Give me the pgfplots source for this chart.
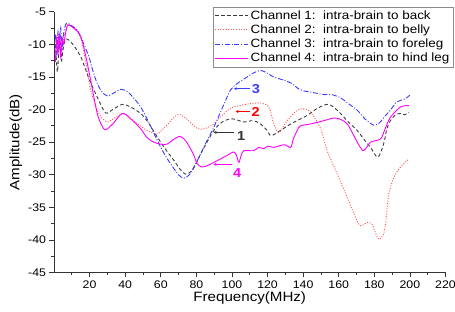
\documentclass[border=0pt]{standalone}
\usepackage{fontspec}
\setmainfont[FakeStretch=1.12]{Liberation Sans}
\usepackage{pgfplots}
\pgfplotsset{compat=1.18}
\usetikzlibrary{arrows.meta}
\definecolor{cA}{RGB}{60,60,60}
\definecolor{cB}{RGB}{255,80,80}
\definecolor{cC}{RGB}{60,60,255}
\definecolor{cD}{RGB}{255,0,255}
\begin{document}
\begin{tikzpicture}
\begin{axis}[
  scale only axis, width=391.5pt, height=261pt,
  xmin=0, xmax=220, ymin=-45, ymax=-5,
  axis lines=left, axis line style={-, line width=0.9pt, draw=black!80},
  tick align=outside,
  xtick={20,40,...,220}, minor xtick={10,30,...,210},
  ytick={-45,-40,...,-5}, minor ytick={-42.5,-37.5,...,-7.5},
  major tick length=4.5pt, minor tick length=2.5pt,
  every tick/.style={black!80, line width=0.8pt},
  /pgf/number format/assume math mode=true,
  tick label style={font=\fontsize{11}{12}\selectfont},
  xlabel={Frequency(MHz)}, ylabel={Amplitude(dB)},
  label style={font=\fontsize{13.5}{15}\selectfont},
  xlabel style={yshift=4pt},
  ylabel style={yshift=-1pt},
  legend style={at={(1.019,1.018)}, anchor=north east, draw=black!45, fill=white,
    font=\fontsize{12}{13}\selectfont, inner sep=1.5pt, row sep=0pt, outer sep=0pt},
  legend cell align=left,
  legend image code/.code={\draw[#1] (0pt,0pt) -- (33pt,0pt);},
]
\addplot[color=cA, line width=0.9pt, dash pattern=on 3.5pt off 2.5pt, smooth] coordinates {
(0.8,-10) (1.5,-13) (2,-14.2) (2.8,-10.5) (3.5,-9.5) (4.2,-12.5) (5,-11) (6.5,-9.2) (10,-9.8) (15,-11.9) (20,-15.5) (24.3,-18.1) (29,-20.5) (33,-20) (38.4,-19.2) (43,-19.6) (48.7,-20.6) (53,-22) (58,-24.2) (63,-26.2) (67.4,-27.8) (71,-29.2) (74,-29.9) (78,-29.2) (82.4,-26.8) (87,-24.5) (89.8,-23.2) (94,-22) (99.2,-21.4) (103,-21.6) (106.7,-21.9) (112,-21.7) (116,-22.2) (119.8,-23.2) (122,-24.0) (127.3,-23.2) (133,-22.2) (138,-21.5) (142.3,-20.9) (148,-19.8) (153.5,-19.2) (157,-19.6) (161,-20.6) (165,-21.8) (170.4,-23.2) (174,-24.5) (177.9,-25.8) (182,-27.3) (185.3,-25.2) (187,-23) (189,-21.7) (192,-20.8) (194.7,-20.6) (197,-20.8) (199.4,-20.4)
};
\addlegendentry{Channel 1:\ \ intra-brain to back}
\addplot[color=cB, line width=0.9pt, dash pattern=on 1pt off 1.6pt, smooth] coordinates {
(1,-9.5) (2,-8.5) (3,-10) (4,-9) (5,-9.5) (7.5,-7.0) (11,-7.3) (15,-9) (18,-13) (20.6,-17) (24.3,-20.1) (27,-21.3) (30,-21.9) (34,-21.3) (39.3,-20.6) (45,-21.8) (52.4,-23.2) (58,-23.7) (63,-22.5) (69.3,-20.8) (74,-21.3) (80.5,-22.9) (85,-22.9) (89.8,-22.2) (94,-21) (99.2,-19.8) (104,-19.4) (110,-19.1) (116,-19.0) (120.7,-19.6) (123.5,-22.2) (126,-23.5) (128.5,-22.8) (131,-21.7) (136.7,-20.1) (140.4,-19.9) (144.2,-20.4) (149.8,-22.9) (153.5,-26.3) (159.2,-29.9) (164.8,-33.5) (169.4,-36.5) (172.2,-37.8) (176,-37.3) (178.8,-37.6) (180.5,-38.8) (182.5,-39.9) (185,-39.2) (186.3,-37.5) (188.1,-33) (191,-30.4) (194.7,-28.8) (199.4,-27.6)
};
\addlegendentry{Channel 2:\ \ intra-brain to belly}
\addplot[color=cC, line width=0.9pt, dash pattern=on 5pt off 1.8pt on 1pt off 1.8pt, smooth] coordinates {
(0.8,-8.5) (1.5,-11.5) (2.3,-8) (3,-10.5) (3.8,-7.5) (4.5,-11) (5.3,-8.5) (6.9,-6.8) (10,-7.2) (13,-7.8) (16,-9.5) (19.6,-11.9) (22,-14.2) (24.3,-16.0) (27,-17.3) (30,-17.9) (34,-17.4) (37.4,-16.9) (41,-17.2) (45,-18.3) (48.7,-19.6) (53,-21.8) (58,-24.7) (62,-26.8) (65.5,-28.3) (70,-30.0) (73,-30.5) (76,-30.0) (79,-28.6) (82.4,-26.8) (85,-25.3) (89.8,-22.7) (95,-19.5) (99.2,-17.0) (103,-16) (108.6,-15.0) (112,-14.4) (116,-14.0) (119,-14.3) (123.5,-15.0) (128,-15.4) (133,-15.9) (138.5,-17.0) (144,-17.3) (151.6,-17.7) (156,-17.7) (161,-18.2) (165,-19) (170.4,-20.1) (175,-21.5) (179.7,-22.4) (183,-22) (186,-21) (189,-20.1) (192,-19.0) (194.7,-18.6) (197,-18.4) (200,-17.8)
};
\addlegendentry{Channel 3:\ \ intra-brain to foreleg}
\addplot[color=cD, line width=0.9pt, smooth] coordinates {
(0.8,-12.7) (1.5,-9) (2.2,-11.5) (3,-8.5) (3.8,-12) (4.6,-9) (5.4,-10) (7.5,-7.2) (11,-7.5) (15,-8.8) (18,-12) (20.6,-15.5) (24.3,-20.6) (27,-22.5) (29,-23.1) (33,-22.2) (38.4,-20.6) (43,-21.4) (48.6,-22.9) (52,-24.2) (56.1,-25.0) (60,-25.3) (63.6,-25.3) (67,-24.6) (71,-24.1) (74,-24.8) (76.7,-26.0) (78.6,-27) (80.5,-28.3) (83,-28.8) (86.1,-28.6) (89.8,-28.1) (94,-27.5) (97.4,-27.0) (101,-26.5) (102.5,-27) (103.9,-28.1) (105.2,-27) (106.7,-26.3) (112.3,-26.3) (115,-25.8) (117.9,-26.0) (120,-25.6) (123.5,-25.8) (127.3,-25.5) (130,-25.4) (133,-25.8) (134.5,-24.5) (136.7,-23.2) (138.5,-22.5) (144.2,-22.2) (151.6,-21.7) (157.2,-21.3) (161,-21.5) (164.8,-22.2) (168.5,-24.0) (171.5,-25.5) (174.1,-26.3) (177.9,-25.0) (183.5,-24.5) (186,-23) (189,-21.2) (194.7,-19.6) (199.4,-19.4)
};
\addlegendentry{Channel 4:\ \ intra-brain to hind leg}
% annotations
\draw[cC, -{Stealth[length=3pt,width=3pt]}, line width=0.6pt] (axis cs:110.4,-16.8) -- (axis cs:101.1,-16.8);
\node[cC, anchor=west, inner sep=0.5pt, font=\fontsize{13}{13}\selectfont\bfseries] at (axis cs:110.8,-16.9) {3};
\draw[red, -{Stealth[length=3pt,width=3pt]}, line width=0.6pt] (axis cs:110.4,-20.3) -- (axis cs:102,-20.3);
\node[red, anchor=west, inner sep=0.5pt, font=\fontsize{13}{13}\selectfont\bfseries] at (axis cs:110.6,-20.4) {2};
\draw[black!80, -{Stealth[length=3pt,width=3pt]}, line width=0.6pt] (axis cs:100.9,-23.5) -- (axis cs:89.7,-23.5);
\node[black!80, anchor=west, inner sep=0.5pt, font=\fontsize{13}{13}\selectfont\bfseries] at (axis cs:102.5,-24.0) {1};
\draw[cD, -{Stealth[length=3pt,width=3pt]}, line width=0.6pt] (axis cs:100.3,-28.4) -- (axis cs:89.7,-28.4);
\node[cD, inner sep=0.5pt, font=\fontsize{13}{13}\selectfont\bfseries] at (axis cs:103,-29.7) {4};
\end{axis}
\pgfresetboundingbox
\path ([shift={(-54pt,-38.3pt)}]current axis.south west) rectangle ([shift={(9.5pt,11.7pt)}]current axis.north east);
\end{tikzpicture}
\end{document}
